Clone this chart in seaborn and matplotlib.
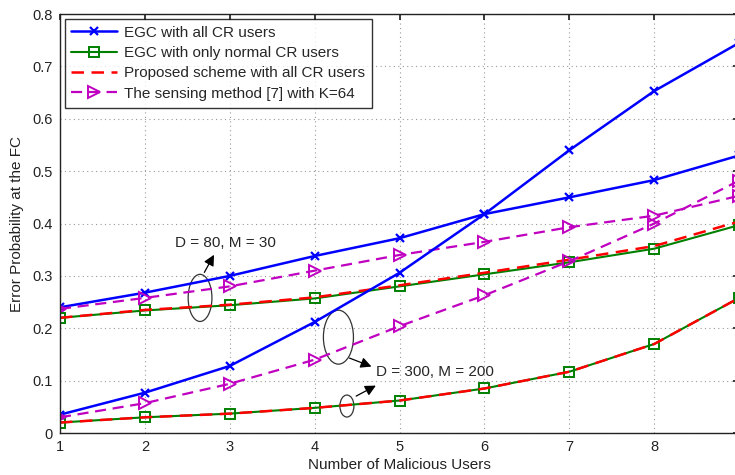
import numpy as np
import pandas as pd
import matplotlib
matplotlib.use("Agg")
import matplotlib.pyplot as plt
from matplotlib.patches import Ellipse
import seaborn as sns

# Number of malicious users
users = [1, 2, 3, 4, 5, 6, 7, 8, 9]

# D = 80, M = 30
egc_all_80 = [0.240, 0.268, 0.300, 0.338, 0.372, 0.418, 0.450, 0.483, 0.530]
egc_normal_80 = [0.220, 0.234, 0.244, 0.257, 0.280, 0.303, 0.326, 0.352, 0.397]
proposed_80 = [0.220, 0.235, 0.245, 0.259, 0.282, 0.306, 0.331, 0.357, 0.404]
sensing_80 = [0.237, 0.258, 0.280, 0.310, 0.340, 0.365, 0.393, 0.415, 0.453]

# D = 300, M = 200
egc_all_300 = [0.035, 0.077, 0.128, 0.212, 0.306, 0.418, 0.540, 0.653, 0.745]
egc_normal_300 = [0.020, 0.030, 0.037, 0.048, 0.062, 0.085, 0.117, 0.170, 0.258]
proposed_300 = [0.020, 0.030, 0.037, 0.048, 0.062, 0.085, 0.117, 0.170, 0.258]
sensing_300 = [0.030, 0.057, 0.094, 0.140, 0.204, 0.263, 0.328, 0.400, 0.482]

labels = ["EGC with all CR users", "EGC with only normal CR users",
          "Proposed scheme with all CR users", "The sensing method [7] with K=64"]

sns.set_theme(style="white")
plt.rcParams["font.family"] = ["Liberation Sans", "DejaVu Sans"]
plt.rcParams["font.size"] = 11

fig = plt.figure(figsize=(7.35, 4.75), dpi=100)
ax = fig.add_axes([0.0816, 0.0884, 0.924, 0.882])

blue, green, red, magenta = "#0000ff", "#008000", "#ff0000", "#c000c0"
styles = [
    dict(color=blue, marker="x", linestyle="-", linewidth=1.8, markersize=6,
         markeredgewidth=1.6, markerfacecolor="none", markeredgecolor=blue),
    dict(color=green, marker="s", linestyle="-", linewidth=1.5, markersize=7,
         markeredgewidth=1.4, markerfacecolor="none", markeredgecolor=green),
    dict(color=red, linestyle=(0, (5, 3)), linewidth=1.8),
    dict(color=magenta, marker=">", linestyle=(0, (5, 3)), linewidth=1.6, markersize=9,
         markeredgewidth=1.4, markerfacecolor="none", markeredgecolor=magenta),
]

series_80 = [egc_all_80, egc_normal_80, proposed_80, sensing_80]
series_300 = [egc_all_300, egc_normal_300, proposed_300, sensing_300]

for vals, lab, st in zip(series_80, labels, styles):
    sns.lineplot(x=users, y=vals, ax=ax, label=lab, **st)
for vals, st in zip(series_300, styles):
    sns.lineplot(x=users, y=vals, ax=ax, label="_nolegend_", **st)

ax.set_xlim(1, 9)
ax.set_ylim(0, 0.8)
ax.set_xticks([1, 2, 3, 4, 5, 6, 7, 8])
ax.set_xticklabels(["1", "2", "3", "4", "5", "6", "7", "8"])
ax.set_yticks(np.arange(0, 0.81, 0.1))
ax.set_yticklabels(["0", "0.1", "0.2", "0.3", "0.4", "0.5", "0.6", "0.7", "0.8"])
ax.tick_params(direction="in", length=4, top=True, right=True, labelsize=10.5,
               colors="#222222", pad=5)
ax.grid(True, linestyle=(0, (1, 3)), color="#999999", linewidth=0.8)
for sp in ax.spines.values():
    sp.set_color("#222222")
    sp.set_linewidth(1.0)

ax.set_xlabel("Number of Malicious Users", fontsize=11, labelpad=3, color="#222222")
ax.set_ylabel("Error Probability at the FC", fontsize=11, labelpad=6, color="#222222")

leg = ax.legend(loc="upper left", frameon=True, fancybox=False, edgecolor="black",
                fontsize=11, handlelength=3.0, borderaxespad=0.3, labelspacing=0.42,
                borderpad=0.45, handletextpad=0.45)
leg.get_frame().set_linewidth(1.0)

# grouping ellipses and callouts
ax.add_patch(Ellipse((2.65, 0.258), 0.28, 0.09, fill=False, edgecolor="#333333", lw=0.9))
ax.annotate("", xy=(2.83, 0.345), xytext=(2.685, 0.302),
            arrowprops=dict(arrowstyle="-|>", color="black", lw=0.9, mutation_scale=16))
ax.text(2.35, 0.363, "D = 80, M = 30", fontsize=11, ha="left", va="center")

ax.add_patch(Ellipse((4.28, 0.183), 0.354, 0.103, fill=False, edgecolor="#333333", lw=0.9))
ax.add_patch(Ellipse((4.38, 0.0515), 0.165, 0.042, fill=False, edgecolor="#333333", lw=0.9))
ax.annotate("", xy=(4.70, 0.125), xytext=(4.38, 0.145),
            arrowprops=dict(arrowstyle="-|>", color="black", lw=0.9, mutation_scale=16))
ax.annotate("", xy=(4.75, 0.093), xytext=(4.46, 0.068),
            arrowprops=dict(arrowstyle="-|>", color="black", lw=0.9, mutation_scale=16))
ax.text(4.72, 0.117, "D = 300, M = 200", fontsize=11, ha="left", va="center")

fig.savefig("out.png", dpi=100)
